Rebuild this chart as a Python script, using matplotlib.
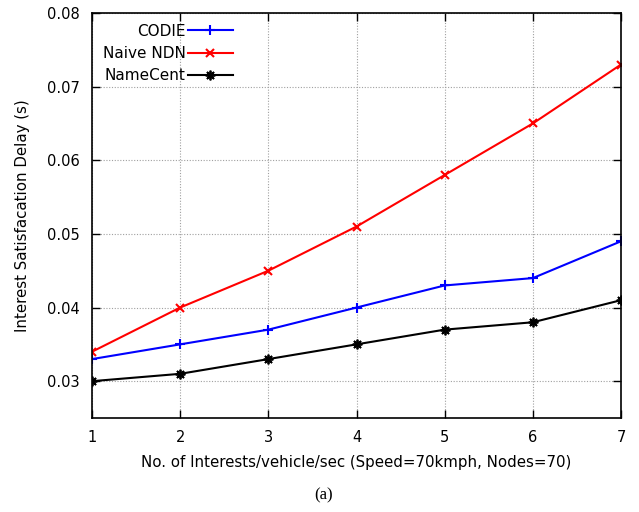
import matplotlib
matplotlib.use("Agg")
import matplotlib.pyplot as plt

x = [1, 2, 3, 4, 5, 6, 7]
codie = [0.033, 0.035, 0.037, 0.040, 0.043, 0.044, 0.049]
naive = [0.034, 0.040, 0.045, 0.051, 0.058, 0.065, 0.073]
namecent = [0.030, 0.031, 0.033, 0.035, 0.037, 0.038, 0.041]
yticks = [0.03, 0.04, 0.05, 0.06, 0.07, 0.08]

plt.rcParams['font.family'] = ['DejaVu Sans']
fig = plt.figure(figsize=(6.39, 5.12), dpi=100)
ax = fig.add_axes([92/639, 1-418/512, (621-92)/639, (418-13)/512])

ax.plot(x, codie, color='#0000ff', lw=1.5, marker='+', ms=7, mew=1.5, label='CODIE')
ax.plot(x, naive, color='#ff0000', lw=1.5, marker='x', ms=6, mew=1.5, label='Naive NDN')
ax.plot(x, namecent, color='black', lw=1.5, marker=(8, 2, 0), ms=7, mew=1.3, label='NameCent')

ax.set_xlim(1, 7)
ax.set_ylim(0.025, 0.08)
ax.set_xticks(x)
ax.set_yticks(yticks)
ax.set_yticklabels([f"{v:.2f}" for v in yticks])
ax.tick_params(direction='in', top=True, right=True, length=6, width=1, labelsize=10.5, pad=9)
ax.grid(True, color='#a0a0a0', linestyle=(0, (1, 1.5)), linewidth=0.8)
for s in ax.spines.values():
    s.set_linewidth(1.2)

ax.set_xlabel('No. of Interests/vehicle/sec (Speed=70kmph, Nodes=70)', fontsize=10.8, labelpad=7)
ax.set_ylabel('Interest Satisfacation Delay (s)', fontsize=10.8, labelpad=12)

leg = ax.legend(loc='upper left', bbox_to_anchor=(0.0, 1.0), frameon=False, markerfirst=False,
                fontsize=11, handlelength=2.95, handletextpad=0.15, labelspacing=0.48,
                borderaxespad=0.3)

fig.text(324/639, 1-495/512, '(a)', ha='center', va='center', fontsize=12, family='Liberation Serif')

fig.savefig('out.png', dpi=100)
